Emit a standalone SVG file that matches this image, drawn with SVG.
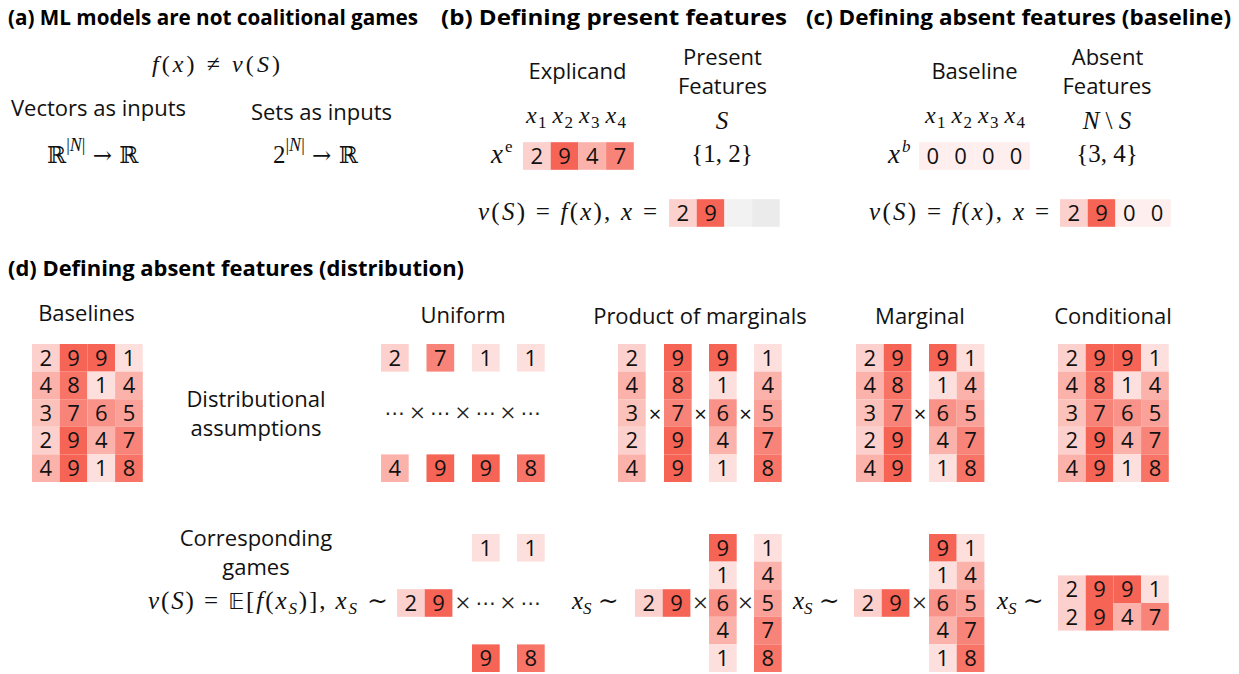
<svg xmlns="http://www.w3.org/2000/svg" xmlns:xlink="http://www.w3.org/1999/xlink" width="1239" height="674" viewBox="0 0 1239 674">
<style>
.t{font-family:"Open Sans","Liberation Sans",sans-serif;font-weight:700;font-size:20.5px;fill:#000}
.l{font-family:"Open Sans","Liberation Sans",sans-serif;font-size:22px;fill:#111;text-anchor:middle}
.m{font-family:"Liberation Serif","DejaVu Serif",serif;font-size:25px;fill:#111}
.i{font-style:italic}
.sub{font-size:17px}
.dg text{font-family:"Open Sans","Liberation Sans",sans-serif;font-size:22px;fill:#111;text-anchor:middle}
.op{font-family:"Liberation Serif","DejaVu Serif",serif;font-size:28px;fill:#222;text-anchor:middle}
.dots{font-family:"DejaVu Sans",sans-serif;font-size:20px;fill:#222;text-anchor:middle}
.v0{fill:#feefee}.v1{fill:#fde0dd}.v2{fill:#fcd0cc}.v3{fill:#fbc1bb}.v4{fill:#fbb2ab}
.v5{fill:#faa29a}.v6{fill:#f99389}.v7{fill:#f88378}.v8{fill:#f77467}.v9{fill:#f66456}
.g1{fill:#f2f2f2}.g2{fill:#ebebeb}
</style>
<defs>
<rect id="c" width="27.7" height="27.6"/>
</defs>
<rect width="1239" height="674" fill="#fff"/>

<!-- Titles -->
<g id="titles">
<text class="t" x="8" y="25" textLength="410" lengthAdjust="spacingAndGlyphs">(a) ML models are not coalitional games</text>
<text class="t" x="441" y="25" textLength="346" lengthAdjust="spacingAndGlyphs">(b) Defining present features</text>
<text class="t" x="806" y="25" textLength="425" lengthAdjust="spacingAndGlyphs">(c) Defining absent features (baseline)</text>
<text class="t" x="8" y="276" textLength="456" lengthAdjust="spacingAndGlyphs">(d) Defining absent features (distribution)</text>
</g>

<!-- Panel a -->
<g id="panel-a">
<text class="m" x="152" y="72" textLength="128" style="font-size:24px"><tspan class="i">f</tspan>(<tspan class="i">x</tspan>) ≠ <tspan class="i">v</tspan>(<tspan class="i">S</tspan>)</text>
<text class="l" x="98.5" y="116">Vectors as inputs</text>
<text class="l" x="321.5" y="120">Sets as inputs</text>
<text class="m" x="47" y="163" style="font-family:'DejaVu Serif',serif;font-size:23px">ℝ<tspan dy="-12" style="font-family:'Liberation Serif',serif;font-size:18px">|<tspan class="i">N</tspan>|</tspan><tspan dy="12"> → ℝ</tspan></text>
<text class="m" x="273" y="163" style="font-size:25px">2<tspan dy="-12" style="font-size:18px">|<tspan class="i">N</tspan>|</tspan><tspan dy="12" style="font-family:'DejaVu Serif',serif;font-size:23px"> → ℝ</tspan></text>
</g>

<!-- Panel b -->
<g id="panel-b">
<text class="l" x="577.5" y="79">Explicand</text>
<text class="l" x="722.5" y="65">Present</text>
<text class="l" x="722.5" y="94">Features</text>
<g class="m">
<text x="526" y="123" class="i" style="font-size:24px">x</text><text x="538" y="128" class="sub">1</text>
<text x="552.5" y="123" class="i" style="font-size:24px">x</text><text x="564.5" y="128" class="sub">2</text>
<text x="579" y="123" class="i" style="font-size:24px">x</text><text x="591" y="128" class="sub">3</text>
<text x="605.5" y="123" class="i" style="font-size:24px">x</text><text x="617.5" y="128" class="sub">4</text>
</g>
<text class="m i" x="722" y="129" text-anchor="middle">S</text>
<text class="m i" x="491" y="163" style="font-size:27px">x</text>
<text class="m" x="505" y="152" style="font-size:17px">e</text>
<text class="m" x="722" y="162" text-anchor="middle">{1, 2}</text>
<text class="m" x="478" y="220" textLength="179"><tspan class="i">v</tspan>(<tspan class="i">S</tspan>) = <tspan class="i">f</tspan>(<tspan class="i">x</tspan>), <tspan class="i">x</tspan> =</text>
<g class="dg" transform="translate(523,142.2)">
<use href="#c" x="0" class="v2"/><use href="#c" x="27.7" class="v9"/><use href="#c" x="55.4" class="v4"/><use href="#c" x="83.1" class="v7"/>
<text x="13.85" y="21.6">2</text><text x="41.55" y="21.6">9</text><text x="69.25" y="21.6">4</text><text x="96.95" y="21.6">7</text>
</g>
<g class="dg" transform="translate(669,199.2)">
<use href="#c" x="0" class="v2"/><use href="#c" x="27.7" class="v9"/><use href="#c" x="55.4" class="g1"/><use href="#c" x="83.1" class="g2"/>
<text x="13.85" y="21.6">2</text><text x="41.55" y="21.6">9</text>
</g>
</g>

<!-- Panel c -->
<g id="panel-c">
<text class="l" x="974.5" y="79">Baseline</text>
<text class="l" x="1107.5" y="65">Absent</text>
<text class="l" x="1107" y="94">Features</text>
<g class="m">
<text x="925" y="123" class="i" style="font-size:24px">x</text><text x="937" y="128" class="sub">1</text>
<text x="951.5" y="123" class="i" style="font-size:24px">x</text><text x="963.5" y="128" class="sub">2</text>
<text x="978" y="123" class="i" style="font-size:24px">x</text><text x="990" y="128" class="sub">3</text>
<text x="1004.5" y="123" class="i" style="font-size:24px">x</text><text x="1016.5" y="128" class="sub">4</text>
</g>
<text class="m" x="1107" y="129" text-anchor="middle"><tspan class="i">N</tspan> \ <tspan class="i">S</tspan></text>
<text class="m i" x="888" y="163" style="font-size:27px">x</text>
<text class="m i" x="902" y="152" style="font-size:17px">b</text>
<text class="m" x="1107" y="162" text-anchor="middle">{3, 4}</text>
<text class="m" x="869" y="220" textLength="180"><tspan class="i">v</tspan>(<tspan class="i">S</tspan>) = <tspan class="i">f</tspan>(<tspan class="i">x</tspan>), <tspan class="i">x</tspan> =</text>
<g class="dg" transform="translate(919,142.2)">
<use href="#c" x="0" class="v0"/><use href="#c" x="27.7" class="v0"/><use href="#c" x="55.4" class="v0"/><use href="#c" x="83.1" class="v0"/>
<text x="13.85" y="21.6">0</text><text x="41.55" y="21.6">0</text><text x="69.25" y="21.6">0</text><text x="96.95" y="21.6">0</text>
</g>
<g class="dg" transform="translate(1060,199.2)">
<use href="#c" x="0" class="v2"/><use href="#c" x="27.7" class="v9"/><use href="#c" x="55.4" class="v0"/><use href="#c" x="83.1" class="v0"/>
<text x="13.85" y="21.6">2</text><text x="41.55" y="21.6">9</text><text x="69.25" y="21.6">0</text><text x="96.95" y="21.6">0</text>
</g>
</g>

<!-- Panel d : headings -->
<g id="panel-d-labels">
<text class="l" x="86.5" y="321">Baselines</text>
<text class="l" x="463" y="323">Uniform</text>
<text class="l" x="700" y="324">Product of marginals</text>
<text class="l" x="920" y="324">Marginal</text>
<text class="l" x="1113" y="324">Conditional</text>
<text class="l" x="256" y="407">Distributional</text>
<text class="l" x="256" y="436">assumptions</text>
<text class="l" x="256" y="546">Corresponding</text>
<text class="l" x="256" y="575">games</text>
</g>

<!-- Baselines grid -->
<g id="baselines" class="dg" transform="translate(32,344)">
<use href="#c" x="0" y="0" class="v2"/><use href="#c" x="27.7" y="0" class="v9"/><use href="#c" x="55.4" y="0" class="v9"/><use href="#c" x="83.1" y="0" class="v1"/>
<use href="#c" x="0" y="27.6" class="v4"/><use href="#c" x="27.7" y="27.6" class="v8"/><use href="#c" x="55.4" y="27.6" class="v1"/><use href="#c" x="83.1" y="27.6" class="v4"/>
<use href="#c" x="0" y="55.2" class="v3"/><use href="#c" x="27.7" y="55.2" class="v7"/><use href="#c" x="55.4" y="55.2" class="v6"/><use href="#c" x="83.1" y="55.2" class="v5"/>
<use href="#c" x="0" y="82.8" class="v2"/><use href="#c" x="27.7" y="82.8" class="v9"/><use href="#c" x="55.4" y="82.8" class="v4"/><use href="#c" x="83.1" y="82.8" class="v7"/>
<use href="#c" x="0" y="110.4" class="v4"/><use href="#c" x="27.7" y="110.4" class="v9"/><use href="#c" x="55.4" y="110.4" class="v1"/><use href="#c" x="83.1" y="110.4" class="v8"/>
<text x="13.85" y="21.6">2</text><text x="41.55" y="21.6">9</text><text x="69.25" y="21.6">9</text><text x="96.95" y="21.6">1</text>
<text x="13.85" y="49.2">4</text><text x="41.55" y="49.2">8</text><text x="69.25" y="49.2">1</text><text x="96.95" y="49.2">4</text>
<text x="13.85" y="76.8">3</text><text x="41.55" y="76.8">7</text><text x="69.25" y="76.8">6</text><text x="96.95" y="76.8">5</text>
<text x="13.85" y="104.4">2</text><text x="41.55" y="104.4">9</text><text x="69.25" y="104.4">4</text><text x="96.95" y="104.4">7</text>
<text x="13.85" y="132">4</text><text x="41.55" y="132">9</text><text x="69.25" y="132">1</text><text x="96.95" y="132">8</text>
</g>

<!-- Uniform -->
<g id="uniform" class="dg">
<use href="#c" x="381" y="344" class="v2"/><use href="#c" x="426.5" y="344" class="v7"/><use href="#c" x="472" y="344" class="v1"/><use href="#c" x="517" y="344" class="v1"/>
<use href="#c" x="381" y="454.4" class="v4"/><use href="#c" x="426.5" y="454.4" class="v9"/><use href="#c" x="472" y="454.4" class="v9"/><use href="#c" x="517" y="454.4" class="v8"/>
<text x="394.85" y="365.6">2</text><text x="440.35" y="365.6">7</text><text x="485.85" y="365.6">1</text><text x="530.85" y="365.6">1</text>
<text x="394.85" y="476">4</text><text x="440.35" y="476">9</text><text x="485.85" y="476">9</text><text x="530.85" y="476">8</text>
</g>
<g id="uniform-ops">
<text class="dots" x="394.85" y="420">⋯</text><text class="op" x="417.5" y="422">×</text>
<text class="dots" x="440.35" y="420">⋯</text><text class="op" x="463" y="422">×</text>
<text class="dots" x="485.85" y="420">⋯</text><text class="op" x="508" y="422">×</text>
<text class="dots" x="530.85" y="420">⋯</text>
</g>

<!-- Product of marginals -->
<g id="product" class="dg">
<g transform="translate(618,344)">
<use href="#c" y="0" class="v2"/><use href="#c" y="27.6" class="v4"/><use href="#c" y="55.2" class="v3"/><use href="#c" y="82.8" class="v2"/><use href="#c" y="110.4" class="v4"/>
<text x="13.85" y="21.6">2</text><text x="13.85" y="49.2">4</text><text x="13.85" y="76.8">3</text><text x="13.85" y="104.4">2</text><text x="13.85" y="132">4</text>
</g>
<g transform="translate(664,344)">
<use href="#c" y="0" class="v9"/><use href="#c" y="27.6" class="v8"/><use href="#c" y="55.2" class="v7"/><use href="#c" y="82.8" class="v9"/><use href="#c" y="110.4" class="v9"/>
<text x="13.85" y="21.6">9</text><text x="13.85" y="49.2">8</text><text x="13.85" y="76.8">7</text><text x="13.85" y="104.4">9</text><text x="13.85" y="132">9</text>
</g>
<g transform="translate(709,344)">
<use href="#c" y="0" class="v9"/><use href="#c" y="27.6" class="v1"/><use href="#c" y="55.2" class="v6"/><use href="#c" y="82.8" class="v4"/><use href="#c" y="110.4" class="v1"/>
<text x="13.85" y="21.6">9</text><text x="13.85" y="49.2">1</text><text x="13.85" y="76.8">6</text><text x="13.85" y="104.4">4</text><text x="13.85" y="132">1</text>
</g>
<g transform="translate(754,344)">
<use href="#c" y="0" class="v1"/><use href="#c" y="27.6" class="v4"/><use href="#c" y="55.2" class="v5"/><use href="#c" y="82.8" class="v7"/><use href="#c" y="110.4" class="v8"/>
<text x="13.85" y="21.6">1</text><text x="13.85" y="49.2">4</text><text x="13.85" y="76.8">5</text><text x="13.85" y="104.4">7</text><text x="13.85" y="132">8</text>
</g>
<text class="op" x="655" y="422">×</text><text class="op" x="700.5" y="422">×</text><text class="op" x="745.5" y="422">×</text>
</g>

<!-- Marginal -->
<g id="marginal" class="dg">
<g transform="translate(856,344)">
<use href="#c" x="0" y="0" class="v2"/><use href="#c" x="27.7" y="0" class="v9"/>
<use href="#c" x="0" y="27.6" class="v4"/><use href="#c" x="27.7" y="27.6" class="v8"/>
<use href="#c" x="0" y="55.2" class="v3"/><use href="#c" x="27.7" y="55.2" class="v7"/>
<use href="#c" x="0" y="82.8" class="v2"/><use href="#c" x="27.7" y="82.8" class="v9"/>
<use href="#c" x="0" y="110.4" class="v4"/><use href="#c" x="27.7" y="110.4" class="v9"/>
<text x="13.85" y="21.6">2</text><text x="41.55" y="21.6">9</text>
<text x="13.85" y="49.2">4</text><text x="41.55" y="49.2">8</text>
<text x="13.85" y="76.8">3</text><text x="41.55" y="76.8">7</text>
<text x="13.85" y="104.4">2</text><text x="41.55" y="104.4">9</text>
<text x="13.85" y="132">4</text><text x="41.55" y="132">9</text>
</g>
<g transform="translate(929,344)">
<use href="#c" x="0" y="0" class="v9"/><use href="#c" x="27.7" y="0" class="v1"/>
<use href="#c" x="0" y="27.6" class="v1"/><use href="#c" x="27.7" y="27.6" class="v4"/>
<use href="#c" x="0" y="55.2" class="v6"/><use href="#c" x="27.7" y="55.2" class="v5"/>
<use href="#c" x="0" y="82.8" class="v4"/><use href="#c" x="27.7" y="82.8" class="v7"/>
<use href="#c" x="0" y="110.4" class="v1"/><use href="#c" x="27.7" y="110.4" class="v8"/>
<text x="13.85" y="21.6">9</text><text x="41.55" y="21.6">1</text>
<text x="13.85" y="49.2">1</text><text x="41.55" y="49.2">4</text>
<text x="13.85" y="76.8">6</text><text x="41.55" y="76.8">5</text>
<text x="13.85" y="104.4">4</text><text x="41.55" y="104.4">7</text>
<text x="13.85" y="132">1</text><text x="41.55" y="132">8</text>
</g>
<text class="op" x="920" y="422">×</text>
</g>

<!-- Conditional -->
<g id="conditional" class="dg" transform="translate(1058,344)">
<use href="#c" x="0" y="0" class="v2"/><use href="#c" x="27.7" y="0" class="v9"/><use href="#c" x="55.4" y="0" class="v9"/><use href="#c" x="83.1" y="0" class="v1"/>
<use href="#c" x="0" y="27.6" class="v4"/><use href="#c" x="27.7" y="27.6" class="v8"/><use href="#c" x="55.4" y="27.6" class="v1"/><use href="#c" x="83.1" y="27.6" class="v4"/>
<use href="#c" x="0" y="55.2" class="v3"/><use href="#c" x="27.7" y="55.2" class="v7"/><use href="#c" x="55.4" y="55.2" class="v6"/><use href="#c" x="83.1" y="55.2" class="v5"/>
<use href="#c" x="0" y="82.8" class="v2"/><use href="#c" x="27.7" y="82.8" class="v9"/><use href="#c" x="55.4" y="82.8" class="v4"/><use href="#c" x="83.1" y="82.8" class="v7"/>
<use href="#c" x="0" y="110.4" class="v4"/><use href="#c" x="27.7" y="110.4" class="v9"/><use href="#c" x="55.4" y="110.4" class="v1"/><use href="#c" x="83.1" y="110.4" class="v8"/>
<text x="13.85" y="21.6">2</text><text x="41.55" y="21.6">9</text><text x="69.25" y="21.6">9</text><text x="96.95" y="21.6">1</text>
<text x="13.85" y="49.2">4</text><text x="41.55" y="49.2">8</text><text x="69.25" y="49.2">1</text><text x="96.95" y="49.2">4</text>
<text x="13.85" y="76.8">3</text><text x="41.55" y="76.8">7</text><text x="69.25" y="76.8">6</text><text x="96.95" y="76.8">5</text>
<text x="13.85" y="104.4">2</text><text x="41.55" y="104.4">9</text><text x="69.25" y="104.4">4</text><text x="96.95" y="104.4">7</text>
<text x="13.85" y="132">4</text><text x="41.55" y="132">9</text><text x="69.25" y="132">1</text><text x="96.95" y="132">8</text>
</g>

<!-- Corresponding games -->
<g id="game-uniform">
<text class="m" x="148" y="609" textLength="240"><tspan class="i">v</tspan>(<tspan class="i">S</tspan>) = <tspan style="font-family:'DejaVu Sans',sans-serif;font-size:22px">𝔼</tspan>[<tspan class="i">f</tspan>(<tspan class="i">x</tspan><tspan class="i sub" dy="5">S</tspan><tspan dy="-5">)],</tspan> <tspan class="i">x</tspan><tspan class="i sub" dy="5">S</tspan><tspan dy="-5"> ∼</tspan></text>
<g class="dg">
<use href="#c" x="397" y="589.2" class="v2"/><use href="#c" x="424.7" y="589.2" class="v9"/>
<use href="#c" x="472" y="534" class="v1"/><use href="#c" x="517" y="534" class="v1"/>
<use href="#c" x="472" y="644.4" class="v9"/><use href="#c" x="517" y="644.4" class="v8"/>
<text x="410.85" y="610.8">2</text><text x="438.55" y="610.8">9</text>
<text x="485.85" y="555.6">1</text><text x="530.85" y="555.6">1</text>
<text x="485.85" y="666">9</text><text x="530.85" y="666">8</text>
</g>
<text class="op" x="463" y="612">×</text><text class="dots" x="485.85" y="610">⋯</text>
<text class="op" x="508" y="612">×</text><text class="dots" x="530.85" y="610">⋯</text>
</g>

<g id="game-product">
<text class="m" x="572" y="609"><tspan class="i">x</tspan><tspan class="i sub" dy="5">S</tspan><tspan dy="-5"> ∼</tspan></text>
<g class="dg">
<use href="#c" x="635" y="589.2" class="v2"/><use href="#c" x="662.7" y="589.2" class="v9"/>
<text x="648.85" y="610.8">2</text><text x="676.55" y="610.8">9</text>
<g transform="translate(709,534)">
<use href="#c" y="0" class="v9"/><use href="#c" y="27.6" class="v1"/><use href="#c" y="55.2" class="v6"/><use href="#c" y="82.8" class="v4"/><use href="#c" y="110.4" class="v1"/>
<text x="13.85" y="21.6">9</text><text x="13.85" y="49.2">1</text><text x="13.85" y="76.8">6</text><text x="13.85" y="104.4">4</text><text x="13.85" y="132">1</text>
</g>
<g transform="translate(754,534)">
<use href="#c" y="0" class="v1"/><use href="#c" y="27.6" class="v4"/><use href="#c" y="55.2" class="v5"/><use href="#c" y="82.8" class="v7"/><use href="#c" y="110.4" class="v8"/>
<text x="13.85" y="21.6">1</text><text x="13.85" y="49.2">4</text><text x="13.85" y="76.8">5</text><text x="13.85" y="104.4">7</text><text x="13.85" y="132">8</text>
</g>
</g>
<text class="op" x="700.5" y="612">×</text><text class="op" x="745.5" y="612">×</text>
</g>

<g id="game-marginal">
<text class="m" x="793" y="609"><tspan class="i">x</tspan><tspan class="i sub" dy="5">S</tspan><tspan dy="-5"> ∼</tspan></text>
<g class="dg">
<use href="#c" x="854" y="589.2" class="v2"/><use href="#c" x="881.7" y="589.2" class="v9"/>
<text x="867.85" y="610.8">2</text><text x="895.55" y="610.8">9</text>
<g transform="translate(929,534)">
<use href="#c" x="0" y="0" class="v9"/><use href="#c" x="27.7" y="0" class="v1"/>
<use href="#c" x="0" y="27.6" class="v1"/><use href="#c" x="27.7" y="27.6" class="v4"/>
<use href="#c" x="0" y="55.2" class="v6"/><use href="#c" x="27.7" y="55.2" class="v5"/>
<use href="#c" x="0" y="82.8" class="v4"/><use href="#c" x="27.7" y="82.8" class="v7"/>
<use href="#c" x="0" y="110.4" class="v1"/><use href="#c" x="27.7" y="110.4" class="v8"/>
<text x="13.85" y="21.6">9</text><text x="41.55" y="21.6">1</text>
<text x="13.85" y="49.2">1</text><text x="41.55" y="49.2">4</text>
<text x="13.85" y="76.8">6</text><text x="41.55" y="76.8">5</text>
<text x="13.85" y="104.4">4</text><text x="41.55" y="104.4">7</text>
<text x="13.85" y="132">1</text><text x="41.55" y="132">8</text>
</g>
</g>
<text class="op" x="919.5" y="612">×</text>
</g>

<g id="game-conditional">
<text class="m" x="997" y="609"><tspan class="i">x</tspan><tspan class="i sub" dy="5">S</tspan><tspan dy="-5"> ∼</tspan></text>
<g class="dg" transform="translate(1058,575.4)">
<use href="#c" x="0" y="0" class="v2"/><use href="#c" x="27.7" y="0" class="v9"/><use href="#c" x="55.4" y="0" class="v9"/><use href="#c" x="83.1" y="0" class="v1"/>
<use href="#c" x="0" y="27.6" class="v2"/><use href="#c" x="27.7" y="27.6" class="v9"/><use href="#c" x="55.4" y="27.6" class="v4"/><use href="#c" x="83.1" y="27.6" class="v7"/>
<text x="13.85" y="21.6">2</text><text x="41.55" y="21.6">9</text><text x="69.25" y="21.6">9</text><text x="96.95" y="21.6">1</text>
<text x="13.85" y="49.2">2</text><text x="41.55" y="49.2">9</text><text x="69.25" y="49.2">4</text><text x="96.95" y="49.2">7</text>
</g>
</g>

<g id="connectors"/>
</svg>
